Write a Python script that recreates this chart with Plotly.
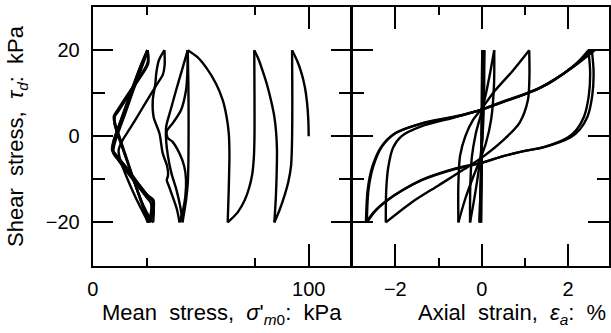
import plotly.graph_objects as go

W, H = 611, 333
FONT = "Liberation Sans"
INK = "black"

# ---------------------------------------------------------------
# Effective stress path: (mean stress p' [kPa], shear stress [kPa]),
# one list per half-cycle of loading.
# ---------------------------------------------------------------
sp_h00 = [(100.0, 0), (99.8, 4), (99.2, 8), (98.2, 11.5), (96.6, 14.8), (94.6, 17.6), (92.3, 20)]
sp_h01 = [(92.3, 20), (92.4, 12), (92.4, 4), (92.2, -3), (91.8, -7), (90.6, -10.5), (88.8, -13.8), (86.6, -17), (84.1, -20)]
sp_h02 = [(84.1, -20), (84.8, -14), (85.2, -8), (85.3, -3), (84.9, 1), (84.1, 4.5), (82.7, 8), (80.8, 11.8), (78.6, 15.3), (76.7, 18), (74.8, 20)]
sp_h03 = [(74.8, 20), (74.9, 10), (74.9, 0), (74.6, -5), (73.8, -9), (72.4, -12), (70.4, -14.8), (67.2, -17.6), (62.5, -20)]
sp_h04 = [(62.5, -20), (63.0, -12), (63.3, -4), (63.0, 0.7), (62.0, 4.5), (60.2, 8.4), (57.1, 12.2), (52.5, 16.0), (48.5, 18.4), (44.0, 20)]
sp_h05 = [(44.0, 20), (44.3, 12), (44.4, 3), (44.3, -6), (44.0, -11), (43.3, -14.5), (42.4, -17.5), (41.6, -20)]
sp_h06 = [(41.6, -20), (40.6, -16.5), (38.8, -12.5), (36.4, -8.5), (34.8, -4.5), (34.0, -1.0), (34.0, 2.2), (36.3, 6.5), (38.6, 10.7), (41.7, 16.0), (44.0, 20)]
sp_h07 = [(44.0, 20), (43.8, 14.5), (43.2, 10.7), (40.9, 6.1), (37.0, 3.0), (34.3, 1.2), (34.6, -0.3), (37.0, -1.3), (40.1, -3.9), (42.4, -7.0), (43.2, -10.1), (42.9, -13.9), (41.8, -17.2), (40.2, -20)]
sp_h08 = [(40.2, -20), (39.0, -17), (37.0, -14), (35.3, -11.6), (34.3, -10.2), (34.9, -9.0), (34.5, -7.0), (32.4, -3.9), (30.9, 0.7), (28.2, 4.5), (27.8, 8.4), (29.0, 12.2), (29.4, 14.5), (30.6, 17.6), (33.2, 20)]
sp_h09 = [(33.2, 20), (33.3, 16.5), (32.4, 14.2), (30.9, 13.0), (27.8, 10.5), (22.0, 5.7), (17.5, 2.0), (13.5, -1.2), (12.0, -3.3), (12.8, -5.6), (15.2, -8.8), (18.6, -12.8), (21.8, -16.2), (24.3, -18.6), (25.8, -20)]
sp_h10 = [(25.8, -20), (26.8, -18.3), (27.0, -15.6), (25.0, -14.2), (20.0, -11.0), (15.0, -7.7), (11.5, -5.3), (9.6, -4.0), (9.9, -2.2), (11.6, 0.5), (15.0, 5.2), (18.6, 10.4), (22.0, 15.0), (24.6, 18.6), (25.4, 20)]
sp_h11 = [(25.4, 20), (25.6, 17.4), (24.5, 16.0), (20.0, 12.5), (15.5, 9.0), (12.0, 6.2), (10.2, 4.8), (10.4, 3.0), (12.2, 0.2), (15.2, -4.3), (18.6, -9.5), (21.8, -14.3), (24.3, -18.0), (25.4, -20)]
sp_h12 = [(25.4, -20), (27.4, -17.5), (27.6, -15.0), (25.3, -14.0), (20.3, -10.8), (15.3, -7.5), (11.3, -4.9), (9.3, -3.6), (9.7, -1.6), (11.4, 1.0), (14.8, 5.6), (18.3, 10.6), (21.8, 15.4), (24.7, 19.0), (25.5, 20)]
sp_h13 = [(25.5, 20), (25.7, 16.9), (24.3, 15.5), (19.8, 12.0), (15.2, 8.4), (11.7, 5.7), (10.0, 4.4), (10.4, 2.5), (12.4, -0.6), (15.6, -5.2), (19.2, -10.6), (22.6, -15.2), (25.2, -18.6), (26.5, -20)]
sp_h14 = [(26.5, -20), (28.0, -17.6), (28.1, -14.8), (25.6, -13.8), (20.6, -10.6), (15.5, -7.2), (11.1, -4.6), (9.0, -3.3), (9.5, -1.3), (11.3, 1.4), (14.6, 6.0), (18.0, 10.8), (21.6, 15.6), (24.5, 19.1), (25.4, 20)]
sp_h15 = [(25.4, 20), (25.5, 17.0), (23.9, 15.4), (19.6, 12.2), (15.0, 8.8), (11.4, 6.0), (9.8, 4.7), (10.2, 2.7), (12.0, -0.2), (15.4, -5.0), (19.4, -10.8), (23.2, -15.8), (26.4, -18.9), (28.0, -20)]
sp_h16 = [(28.0, -20), (28.3, -17.2), (27.9, -14.8), (25.2, -13.6), (20.2, -10.4), (15.2, -7.0), (11.0, -4.4), (9.2, -3.1), (9.8, -1.0), (11.6, 1.6), (14.9, 6.2), (18.3, 11.0), (21.8, 15.8), (24.5, 19.0), (25.2, 20)]

stress_path = [sp_h00, sp_h01, sp_h02, sp_h03, sp_h04, sp_h05, sp_h06, sp_h07, sp_h08,
               sp_h09, sp_h10, sp_h11, sp_h12, sp_h13, sp_h14, sp_h15, sp_h16]

# ---------------------------------------------------------------
# Stress-strain loops: (axial strain [%], shear stress [kPa]),
# same half-cycles as above.
# ---------------------------------------------------------------
ss_h00 = [(0.0, 0), (0.006, 10), (0.012, 20)]
ss_h01 = [(0.012, 20), (0.0, 0), (-0.015, -20)]
ss_h02 = [(-0.015, -20), (0.004, 0), (0.025, 20)]
ss_h03 = [(0.025, 20), (0.006, 0), (-0.03, -20)]
ss_h04 = [(-0.03, -20), (0.008, 0), (0.045, 20)]
ss_h05 = [(0.045, 20), (0.008, 0), (-0.05, -20)]
ss_h06 = [(-0.05, -20), (0.01, 0), (0.06, 20)]
ss_h07 = [(0.06, 20), (0.055, 10), (0.03, 2), (-0.02, -4), (-0.1, -10), (-0.18, -15), (-0.27, -20)]
ss_h08 = [(-0.27, -20), (-0.265, -12), (-0.23, -5), (-0.14, 0.5), (-0.02, 5), (0.1, 10), (0.2, 15), (0.29, 20)]
ss_h09 = [(0.29, 20), (0.285, 12), (0.22, 4), (0.1, -1.5), (-0.04, -5.5), (-0.2, -9.5), (-0.38, -14.5), (-0.54, -20)]
ss_h10 = [(-0.54, -20), (-0.54, -11), (-0.5, -4.5), (-0.38, 0), (-0.2, 3.8), (0.0, 6.4), (0.3, 10.5), (0.7, 15), (1.10, 20)]
ss_h11 = [(1.10, 20), (1.105, 14), (1.07, 8.4), (0.88, 3.2), (0.5, -0.9), (0.05, -4.6), (-0.4, -7.6), (-1.0, -11.4), (-1.6, -15.2), (-2.22, -20)]
ss_h12 = [(-2.22, -20), (-2.21, -12.4), (-2.16, -7.0), (-2.05, -2.6), (-1.86, 0), (-1.4, 2.3), (-0.62, 4.4), (0.0, 6.2), (0.5, 8.0), (1.0, 9.8), (1.5, 12.0), (1.9, 14.6), (2.24, 17.4), (2.47, 20)]
ss_h13 = [(2.47, 20), (2.51, 15), (2.48, 9.5), (2.37, 4.6), (2.2, 1.6), (2.0, -0.2), (1.43, -2.5), (1.0, -3.4), (0.5, -4.6), (0.0, -6.1), (-0.62, -7.5), (-1.39, -10.1), (-1.85, -12.6), (-2.16, -14.7), (-2.45, -17.2), (-2.66, -20)]
ss_h14 = [(-2.66, -20), (-2.62, -12.4), (-2.51, -7.0), (-2.31, -2.4), (-2.0, 0.7), (-1.39, 3.0), (-0.62, 4.6), (0.0, 6.2), (0.5, 8.0), (1.27, 10.8), (1.89, 14.5), (2.3, 17.6), (2.55, 20)]
ss_h15 = [(2.55, 20), (2.59, 15), (2.56, 9.5), (2.45, 4.6), (2.27, 1.6), (2.06, -0.2), (1.45, -2.5), (1.0, -3.4), (0.5, -4.6), (0.0, -6.2), (-0.62, -7.6), (-1.39, -10.2), (-1.86, -12.7), (-2.18, -14.8), (-2.47, -17.3), (-2.68, -20)]
ss_h16 = [(-2.68, -20), (-2.64, -12.5), (-2.53, -7.0), (-2.33, -2.5), (-2.02, 0.6), (-1.41, 2.9), (-0.62, 4.5), (0.0, 6.2), (0.5, 8.1), (1.27, 10.9), (1.9, 14.6), (2.33, 17.7), (2.62, 20)]

stress_strain = [ss_h00, ss_h01, ss_h02, ss_h03, ss_h04, ss_h05, ss_h06, ss_h07, ss_h08,
                 ss_h09, ss_h10, ss_h11, ss_h12, ss_h13, ss_h14, ss_h15, ss_h16]

# axis ticks
p_major = [0, 100]
p_mid = [50]
p_minor = [25, 75]
strain_major = [-2, 0, 2]
strain_minor = [-1, 1]
tau_major = [-20, 0, 20]
tau_minor = [-10, 10]


def fmt(v):
    return f"{v:g}".replace("-", "\u2212")


# panel geometry in pixels (axis lines are drawn just outside each domain)
L0, L1, R1 = 92.7, 351.7, 608.7
TOP, BOT = 7.1, 265.5
GAP = 0.5

fig = go.Figure()
for seg in stress_path:
    fig.add_trace(go.Scatter(x=[q[0] for q in seg], y=[q[1] for q in seg], mode="lines",
                             line=dict(color=INK, width=2.4, shape="spline", smoothing=0.8),
                             xaxis="x", yaxis="y", showlegend=False, hoverinfo="skip"))
for seg in stress_strain:
    fig.add_trace(go.Scatter(x=[q[0] for q in seg], y=[q[1] for q in seg], mode="lines",
                             line=dict(color=INK, width=2.4, shape="spline", smoothing=0.8),
                             xaxis="x2", yaxis="y2", showlegend=False, hoverinfo="skip"))

tickfont = dict(family=FONT, size=20, color=INK)
common = dict(showgrid=False, zeroline=False, showline=True, linecolor=INK, linewidth=2,
              ticks="inside", tickcolor=INK, tickwidth=2, mirror="ticks", tickfont=tickfont,
              automargin=False)
ydom = [1 - BOT / H, 1 - TOP / H]
xdom_l = [L0 / W, (L1 - GAP) / W]
xdom_r = [(L1 + GAP) / W, R1 / W]

# data ranges follow the pixel scale: 2.16 px/kPa, 43.2 px/%
p_range = [0, (L1 - GAP - L0) / 2.16]
s_range = [-(481.7 - L1 - GAP) / 43.2, (R1 - 481.7) / 43.2]

fig.update_layout(
    template="none",
    width=W, height=H, margin=dict(l=0, r=0, t=0, b=0, pad=0, autoexpand=False),
    paper_bgcolor="white", plot_bgcolor="white",
    xaxis=dict(domain=xdom_l, range=p_range, anchor="y",
               tickmode="array", tickvals=p_major, ticktext=[fmt(v) for v in p_major],
               ticklen=22, ticklabelstandoff=4,
               minor=dict(tickmode="array", tickvals=p_minor, ticks="inside", ticklen=8,
                          tickwidth=2, tickcolor=INK, showgrid=False),
               **common),
    xaxis3=dict(domain=xdom_l, range=p_range, anchor="y", overlaying="x",
                tickmode="array", tickvals=p_mid, ticklen=13, showticklabels=False,
                **common),
    yaxis=dict(domain=ydom, range=[-30, 30], anchor="x",
               tickmode="array", tickvals=tau_major, ticktext=[fmt(v) for v in tau_major],
               ticklen=20, ticklabelstandoff=7,
               minor=dict(tickmode="array", tickvals=tau_minor, ticks="inside", ticklen=12,
                          tickwidth=2, tickcolor=INK, showgrid=False),
               **common),
    xaxis2=dict(domain=xdom_r, range=s_range, anchor="y2",
                tickmode="array", tickvals=strain_major, ticktext=[fmt(v) for v in strain_major],
                ticklen=22, ticklabelstandoff=4,
                minor=dict(tickmode="array", tickvals=strain_minor, ticks="inside", ticklen=8,
                           tickwidth=2, tickcolor=INK, showgrid=False),
                **common),
    yaxis2=dict(domain=ydom, range=[-30, 30], anchor="x2",
                tickmode="array", tickvals=tau_major, ticklen=21, showticklabels=False,
                minor=dict(tickmode="array", tickvals=tau_minor, ticks="inside", ticklen=12,
                           tickwidth=2, tickcolor=INK, showgrid=False),
                **common),
)

titlefont = dict(family=FONT, size=22, color=INK)
sp = "\u00a0\u00a0"
fig.add_annotation(xref="paper", yref="paper", x=221.7 / W, y=1 - 314 / H,
                   xanchor="center", yanchor="middle", showarrow=False, font=titlefont,
                   text=f"Mean{sp}stress,{sp}<i>σ</i>'<sub><i>m</i>0</sub>:{sp}kPa")
fig.add_annotation(xref="paper", yref="paper", x=512 / W, y=1 - 314 / H,
                   xanchor="center", yanchor="middle", showarrow=False, font=titlefont,
                   text=f"Axial{sp}strain,{sp}<i>ε<sub>a</sub></i>:{sp}%")
fig.add_annotation(xref="paper", yref="paper", x=17 / W, y=1 - 136 / H,
                   xanchor="center", yanchor="middle", showarrow=False, font=titlefont,
                   textangle=-90,
                   text=f"Shear{sp}stress,{sp}<i>τ<sub>d</sub></i>:{sp}kPa")

fig.write_html("out.html")
